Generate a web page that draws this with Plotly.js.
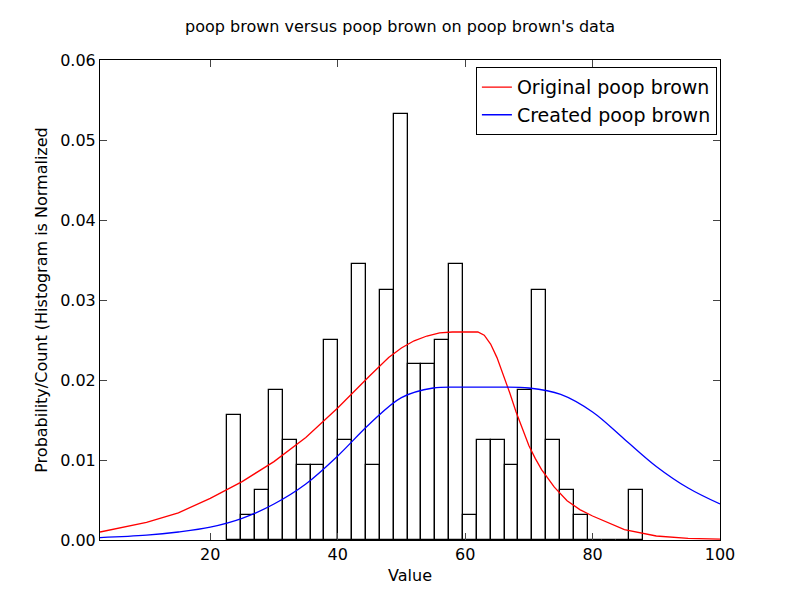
<!DOCTYPE html>
<html>
<head>
<script src="https://cdn.plot.ly/plotly-3.0.1.min.js"></script>
<style>body{margin:0}</style>
</head>
<body>
<div id="chart" style="width:800px;height:600px"></div>
<script>
// histogram (normalized)
const binStart = 22.7;
const binWidth = 2.175;
const binHeights = [0.0156, 0.0031, 0.0062, 0.0187, 0.0125, 0.0094, 0.0094, 0.025, 0.0125, 0.0345,
  0.0094, 0.0313, 0.0532, 0.022, 0.022, 0.025, 0.0345, 0.0031, 0.0125, 0.0125,
  0.0094, 0.0187, 0.0313, 0.0125, 0.0062, 0.0031, 0, 0, 0, 0.0062];

const origX = [2.7, 10, 15, 20, 25, 30, 35, 40, 45, 48, 50, 52, 54, 56, 58, 60, 62, 63, 64, 65, 66, 67, 68, 69, 70, 71, 72, 74, 76, 78, 80, 85, 90, 95, 100];
const origY = [0.001, 0.0022, 0.0034, 0.0052, 0.0073, 0.0098, 0.0128, 0.0165, 0.0205, 0.0228, 0.024, 0.0249, 0.0255, 0.0259, 0.026, 0.026, 0.026,
  0.0256, 0.0245, 0.0228, 0.0207, 0.0184, 0.016, 0.0138, 0.0118, 0.0102, 0.0088, 0.0066, 0.0049, 0.0038, 0.003, 0.0013, 0.0005, 0.0002, 0.0001];

const createdX = [2.7, 10, 15, 20, 25, 30, 35, 40, 45, 50, 55, 60, 65, 70, 75, 80, 85, 90, 95, 100];
const createdY = [0.0003, 0.0006, 0.001, 0.0016, 0.0027, 0.0045, 0.007, 0.0105, 0.0145, 0.0178, 0.019, 0.0191, 0.0191,
  0.019, 0.0182, 0.016, 0.0126, 0.0092, 0.0065, 0.0045];

const binCenters = binHeights.map((_, i) => binStart + binWidth * (i + 0.5));

const traces = [
  {
    type: "bar", x: binCenters, y: binHeights, width: binWidth,
    marker: { color: "white", line: { color: "black", width: 1.3 } },
    showlegend: false, hoverinfo: "x+y"
  },
  {
    type: "scatter", mode: "lines", x: origX, y: origY, name: "Original poop brown",
    line: { color: "red", width: 1.3 }
  },
  {
    type: "scatter", mode: "lines", x: createdX, y: createdY, name: "Created poop brown",
    line: { color: "blue", width: 1.3, shape: "spline" }
  }
];

const axisStyle = {
  showgrid: false, zeroline: false, mirror: "ticks", ticks: "inside", ticklen: 7,
  showline: true, linecolor: "black", linewidth: 1, tickfont: { size: 16, color: "black" }
};

Plotly.newPlot("chart", traces, {
  width: 800, height: 600,
  margin: { l: 100, r: 80, t: 60, b: 60 },
  paper_bgcolor: "white", plot_bgcolor: "white",
  font: { family: "DejaVu Sans", color: "black" },
  title: { text: "poop brown versus poop brown on poop brown's data", font: { size: 16 }, y: 0.965 },
  xaxis: Object.assign({}, axisStyle, { range: [2.7, 100], tickvals: [20, 40, 60, 80, 100],
    title: { text: "Value", font: { size: 16 }, standoff: 6 } }),
  yaxis: Object.assign({}, axisStyle, { range: [0, 0.06], dtick: 0.01, tickformat: ".2f",
    title: { text: "Probability/Count (Histogram is Normalized", font: { size: 16 }, standoff: 8 } }),
  legend: { x: 0.995, y: 0.985, xanchor: "right", yanchor: "top", bordercolor: "black", borderwidth: 1,
    font: { size: 19 }, bgcolor: "white" },
  bargap: 0
}, { displayModeBar: false });
</script>
</body>
</html>
